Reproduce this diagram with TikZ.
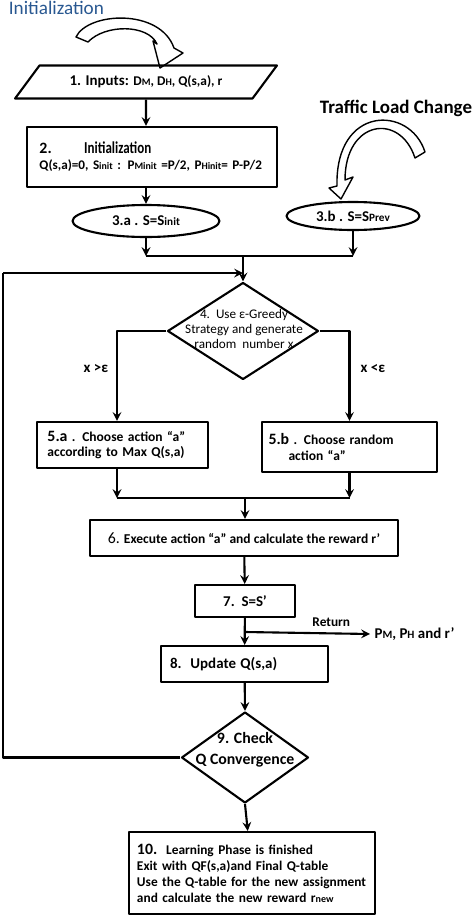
\documentclass[tikz,border=0pt]{standalone}
\usepackage{fontspec}
\setmainfont{Carlito}
\usetikzlibrary{shapes.geometric}
\definecolor{titleblue}{RGB}{41,88,145}
\newcommand{\lo}[1]{\scalebox{.75}{#1}}
\newcommand{\fs}[2]{\fontsize{#1pt}{#2pt}\selectfont}

\begin{document}
\begin{tikzpicture}[x=0.2mm,y=-0.2mm,>=stealth, line width=1.2pt, line join=round, font=\bfseries\fs{7.6}{9},
	box/.style={draw, rectangle, inner sep=0pt},
	oval/.style={draw, ellipse, inner sep=0pt},
	dec/.style={draw, diamond, inner sep=0pt},
	barrow/.style={draw, fill=white, line width=0.8pt}]
	\useasboundingbox (0,0) rectangle (474,916);
	% headings and block arrows
	\node[anchor=base west, text=titleblue, font=\mdseries\fs{10.9}{13}] (ttl) at (2,14) {Initialization};
	\node[font=\bfseries\fs{10.8}{13}] (tlc) at (396,108) {Traffic Load Change};
	\draw[barrow] (76,37) .. controls (88,12) and (160,8) .. (174,48) -- (183,53) -- (160,68) -- (153,41)
		-- (157,44) .. controls (148,24) and (105,24) .. (88,42) -- cycle;
	\draw[barrow] (425,152) .. controls (410,105) and (335,105) .. (337,186) -- (329,188) -- (341,199) -- (353,177)
		-- (345,180) .. controls (345,120) and (400,112) .. (415,158) -- cycle;
	% steps
	\node[draw, trapezium, trapezium left angle=35, trapezium right angle=145, trapezium stretches,
		minimum width=52.4mm, minimum height=6.6mm, inner sep=0pt] (inp) at (146,82)
		{\fs{8.5}{10}1. Inputs: {\fs{7.6}{9}D\lo{M}, D\lo{H}, Q(s,a), r}};
	\node[box, minimum width=50mm, minimum height=12mm, text width=45mm, align=left] (init) at (152,157)
		{\fs{9}{12.5}2.\hspace{6.5mm}\scalebox{.78}[1]{\fs{9.5}{12.5}Initialization}\\ \fs{7.5}{9}Q(s,a)=0, S\lo{init} : P\lo{Minit} =P/2, P\lo{Hinit}= P-P/2};
	\node[oval, minimum width=29.4mm, minimum height=6.4mm] (s3a) at (146,221) {\fs{8.5}{10}3.a . S=S\lo{init}};
	\node[oval, minimum width=26.6mm, minimum height=5.6mm] (s3b) at (353,216) {\fs{8.5}{10}3.b . S=S\lo{Prev}};
	\node[dec, minimum width=30.2mm, minimum height=19.4mm] (d4) at (243,331) {};
	\node[align=center, font=\mdseries\fs{7.5}{8.5}] (d4t) at (244,329) {4.\ \ Use ε-Greedy\\Strategy and generate\\random\ \ number x};
	\node[box, minimum width=34.2mm, minimum height=9.2mm, text width=30mm, align=left] (s5a) at (122.5,445)
		{\fs{7.7}{12.5}{\fs{9}{12.5}5.a} . Choose action “a”\\according to Max Q(s,a)};
	\node[box, minimum width=35mm, minimum height=10mm, text width=32.4mm, align=left] (s5b) at (349.5,447)
		{\fs{7.7}{12.5}{\fs{9}{12.5}5.b} . Choose random\\\hspace*{4mm}action “a”};
	\node[box, minimum width=61.6mm, minimum height=7.2mm] (s6) at (244,538)
		{\fs{7.7}{9}{\mdseries\fs{9}{10}6.} Execute action “a” and calculate the reward r’};
	\node[box, minimum width=20mm, minimum height=6.4mm] (s7) at (245,601) {\fs{8.5}{10}7.\ \ S=S’};
	\node[box, minimum width=33.4mm, minimum height=7.2mm, text width=29.8mm, align=left] (s8) at (244.5,664) {\fs{8.5}{10}8.\ \ Update Q(s,a)};
	\node[dec, minimum width=25.4mm, minimum height=18.2mm] (d9) at (245,757.5) {};
	\node[align=center, font=\bfseries\fs{9}{12}] (d9t) at (245,750) {9. Check\\Q Convergence};
	\node[box, minimum width=49.2mm, minimum height=16.4mm, text width=46mm, align=left] (s10) at (252,873)
		{\fs{7.6}{9.1}{\fs{9}{9.1}10.}\ \ Learning Phase is finished\\Exit with QF(s,a)and Final Q-table\\Use the Q-table for the new assignment\\and calculate the new reward r\lo{new}};
	\node[anchor=west, inner sep=2pt, font=\bfseries\fs{8.5}{10}] (outp) at (370,634) {P\lo{M}, P\lo{H} and r’};
	% connectors
	\coordinate (j1) at (243,256);
	\coordinate (lp) at (3,273);
	\coordinate (cl) at (117,331);
	\coordinate (j2) at (245,498);
	\coordinate (rt) at (245,632);
	\draw[->] (inp) -- (inp |- init.north);
	\draw[->] (init.south -| s3a) -- (s3a);
	\draw[->] (s3a) -- (s3a |- j1);
	\draw[->] (s3b) -- (s3b |- j1);
	\draw (s3a |- j1) -- (s3b |- j1);
	\draw[->] (j1) -- (d4.north);
	\draw[line width=1.7pt] (d9.west) -| (lp);
	\draw[->] (lp) -- (lp -| d4.north);
	\draw[->] (d4.west) -- (cl) -- (cl |- s5a.north);
	\draw[->] (d4.east) -| (s5b.north);
	\node (gt) at (96,369) {\fs{8.5}{10}x >ε};
	\node (lt) at (373,369) {\fs{8.5}{10}x <ε};
	\draw[->] (cl |- s5a.south) -- (cl |- j2);
	\draw[->] (s5b) -- (s5b |- j2);
	\draw (cl |- j2) -- (s5b |- j2);
	\draw[->] (j2) -- (j2 |- s6.north);
	\draw[->] (s6) -- (s7);
	\draw[->] (s7) -- (s8);
	\draw[->] (rt) -- node[pos=.69, above, font=\bfseries\fs{7.6}{9}] (rtl) {Return} (outp.west);
	\draw[->] (s8) -- (d9.north);
	\draw[->] (d9.south) -- (s10);
\end{tikzpicture}
\end{document}
